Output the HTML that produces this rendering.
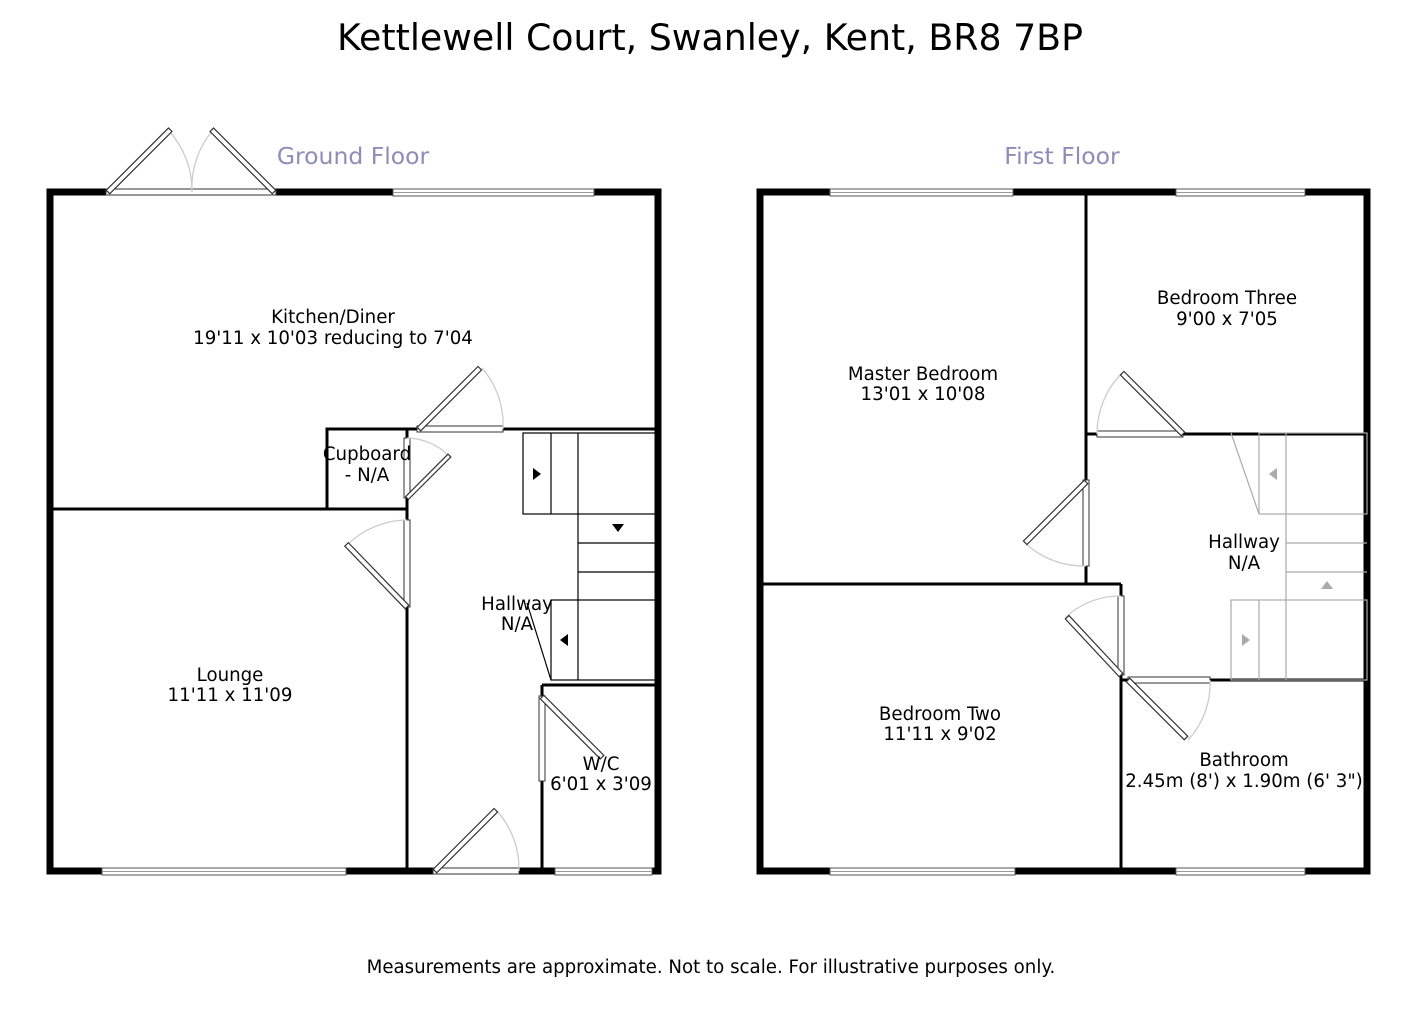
<!DOCTYPE html>
<html><head><meta charset="utf-8"><style>
html,body{margin:0;padding:0;background:#fff}
svg{display:block}
text{font-family:"DejaVu Sans","Liberation Sans",sans-serif}
</style></head><body>
<svg width="1417" height="1022" viewBox="0 0 1417 1022" xmlns="http://www.w3.org/2000/svg">
<rect width="1417" height="1022" fill="#fff"/>
<text x="710" y="50" font-size="36.3" text-anchor="middle" fill="#000">Kettlewell Court, Swanley, Kent, BR8 7BP</text>
<text x="353" y="164" font-size="23.5" text-anchor="middle" fill="#8e8cb8">Ground Floor</text>
<text x="1062" y="164" font-size="23.5" text-anchor="middle" fill="#8e8cb8">First Floor</text>
<text x="711" y="973" font-size="18.2" text-anchor="middle" fill="#000">Measurements are approximate. Not to scale. For illustrative purposes only.</text>

<g fill="none" stroke="#000" stroke-width="7">
<rect x="50" y="192" width="608" height="679"/>
<rect x="760" y="192" width="607" height="679"/>
</g>
<g stroke="#000" stroke-width="3" fill="none">
<line x1="50" y1="509" x2="407" y2="509"/>
<rect x="327" y="429" width="80" height="80"/>
<line x1="407" y1="429" x2="656" y2="429"/>
<line x1="407" y1="429" x2="407" y2="871"/>
<line x1="542" y1="685" x2="542" y2="871"/>
<line x1="542" y1="685" x2="656" y2="685"/>
<line x1="1086" y1="192" x2="1086" y2="584"/>
<line x1="1086" y1="434" x2="1367" y2="434"/>
<line x1="760" y1="584" x2="1121" y2="584"/>
<line x1="1121" y1="584" x2="1121" y2="871"/>
<line x1="1121" y1="680" x2="1367" y2="680"/>
</g>
<g fill="#fff" stroke="#555" stroke-width="1">
<rect x="393" y="189" width="201" height="7"/>
<rect x="102" y="868" width="244" height="7"/>
<rect x="555" y="868" width="97" height="7"/>
<rect x="830" y="189" width="183" height="7"/>
<rect x="1176" y="189" width="129" height="7"/>
<rect x="830" y="868" width="185" height="7"/>
<rect x="1176" y="868" width="129" height="7"/>
</g>
<g stroke="#999" stroke-width="1">
<line x1="393" y1="192.5" x2="594" y2="192.5"/>
<line x1="102" y1="871.5" x2="346" y2="871.5"/>
<line x1="555" y1="871.5" x2="652" y2="871.5"/>
<line x1="830" y1="192.5" x2="1013" y2="192.5"/>
<line x1="1176" y1="192.5" x2="1305" y2="192.5"/>
<line x1="830" y1="871.5" x2="1015" y2="871.5"/>
<line x1="1176" y1="871.5" x2="1305" y2="871.5"/>
</g>
<g fill="#fff" stroke="#333" stroke-width="1">
<rect x="106" y="189" width="170" height="6"/>
<rect x="417" y="426" width="86" height="6"/>
<rect x="404" y="438" width="6" height="60"/>
<rect x="404" y="520" width="6" height="87"/>
<rect x="433" y="868" width="86" height="6"/>
<rect x="539" y="696" width="6" height="85"/>
<rect x="1097" y="431" width="86" height="6"/>
<rect x="1083" y="480" width="6" height="86"/>
<rect x="1118" y="596" width="6" height="79"/>
<rect x="1128" y="677" width="82" height="6"/>
</g>
<g fill="none" stroke="#ccc" stroke-width="1.3">
<path d="M168 130 A88 88 0 0 1 192 192"/>
<path d="M213 130 A88 88 0 0 0 192 192"/>
<path d="M482 368 A86 86 0 0 1 503 429"/>
<path d="M448 455 A60 60 0 0 0 407 438"/>
<path d="M347 545 A87 87 0 0 1 407 520"/>
<path d="M496 810 A86 86 0 0 1 519 871"/>
<path d="M1122 373 A86 86 0 0 0 1097 434"/>
<path d="M1025 543 A86 86 0 0 0 1086 566"/>
<path d="M1066 617 A79 79 0 0 1 1121 596"/>
<path d="M1188 740 A82 82 0 0 0 1210 680"/>
</g>
<g fill="#fff" stroke="#333" stroke-width="1.2">
<rect x="0" y="-2.5" width="88" height="5" transform="translate(108,192) rotate(-45)"/>
<rect x="0" y="-2.5" width="88" height="5" transform="translate(274,192) rotate(-135)"/>
<rect x="0" y="-2.5" width="86" height="5" transform="translate(419,429) rotate(-45)"/>
<rect x="0" y="-2" width="60" height="4" transform="translate(407,498) rotate(-45)"/>
<rect x="0" y="-2.5" width="87" height="5" transform="translate(407,607) rotate(-134)"/>
<rect x="0" y="-2.5" width="86" height="5" transform="translate(435,871) rotate(-45)"/>
<rect x="0" y="-2.5" width="85" height="5" transform="translate(542,697) rotate(45)"/>
<rect x="0" y="-2.5" width="86" height="5" transform="translate(1183,434) rotate(-135)"/>
<rect x="0" y="-2.5" width="86" height="5" transform="translate(1086,482) rotate(135)"/>
<rect x="0" y="-2.5" width="79" height="5" transform="translate(1121,675) rotate(-133)"/>
<rect x="0" y="-2.5" width="82" height="5" transform="translate(1128,680) rotate(45)"/>
</g>
<g fill="none" stroke="#000" stroke-width="1.2">
<rect x="523" y="433" width="135" height="81"/>
<line x1="551" y1="433" x2="551" y2="514"/>
<line x1="578" y1="433" x2="578" y2="680"/>
<line x1="578" y1="543" x2="658" y2="543"/>
<line x1="578" y1="572" x2="658" y2="572"/>
<rect x="551" y="600" width="107" height="80"/>
<line x1="527" y1="603" x2="551" y2="680"/>
</g>
<polygon points="533,468 533,480 541,474" fill="#000"/>
<polygon points="612,524 624,524 618,532" fill="#000"/>
<polygon points="568,634 568,646 560,640" fill="#000"/>
<g fill="none" stroke="#aaa" stroke-width="1.2">
<rect x="1259" y="433" width="108" height="81"/>
<line x1="1286" y1="433" x2="1286" y2="680"/>
<line x1="1231" y1="433" x2="1259" y2="514"/>
<line x1="1286" y1="543" x2="1367" y2="543"/>
<line x1="1286" y1="572" x2="1367" y2="572"/>
<rect x="1231" y="600" width="136" height="80"/>
<line x1="1259" y1="600" x2="1259" y2="680"/>
</g>
<polygon points="1277,468 1277,480 1269,474" fill="#aaa"/>
<polygon points="1321,589 1333,589 1327,581" fill="#aaa"/>
<polygon points="1242,634 1242,646 1250,640" fill="#aaa"/>

<g font-size="18.2" text-anchor="middle" fill="#000">
<text x="333" y="323">Kitchen/Diner</text>
<text x="333" y="344">19'11 x 10'03 reducing to 7'04</text>
<text x="367" y="460">Cupboard</text>
<text x="367" y="481">- N/A</text>
<text x="517" y="610">Hallway</text>
<text x="517" y="630">N/A</text>
<text x="230" y="681">Lounge</text>
<text x="230" y="701">11'11 x 11'09</text>
<text x="601" y="770">W/C</text>
<text x="601" y="790">6'01 x 3'09</text>
<text x="923" y="380">Master Bedroom</text>
<text x="923" y="400">13'01 x 10'08</text>
<text x="1227" y="304">Bedroom Three</text>
<text x="1227" y="325">9'00 x 7'05</text>
<text x="1244" y="548">Hallway</text>
<text x="1244" y="569">N/A</text>
<text x="940" y="720">Bedroom Two</text>
<text x="940" y="740">11'11 x 9'02</text>
<text x="1244" y="766">Bathroom</text>
<text x="1244" y="787">2.45m (8') x 1.90m (6' 3")</text>
</g>
</svg>
</body></html>
